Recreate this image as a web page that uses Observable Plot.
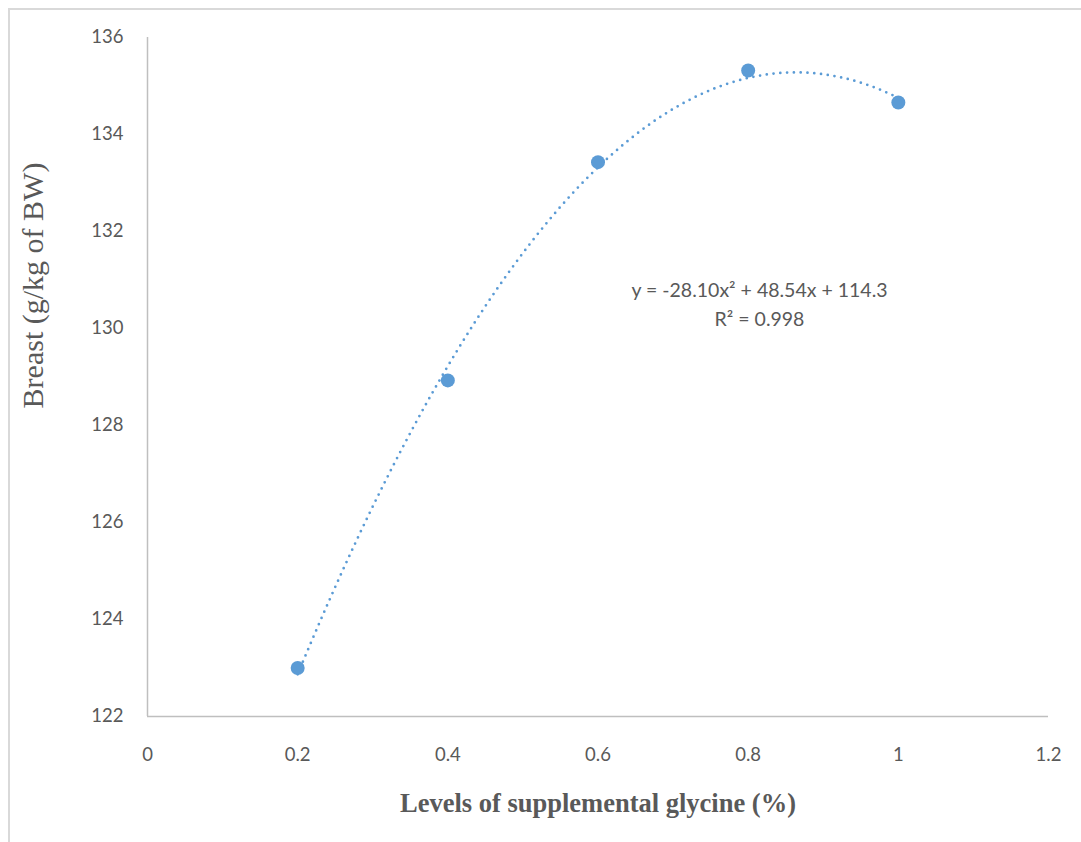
<!DOCTYPE html>
<html>
<head>
<meta charset="utf-8">
<script src="https://cdn.jsdelivr.net/npm/d3@7"></script>
<script src="https://cdn.jsdelivr.net/npm/@observablehq/plot@0.6"></script>
<style>
  html, body { margin: 0; padding: 0; background: #fff; overflow: hidden; }
  #wrap { position: relative; width: 1081px; height: 842px; }
  #frame { position: absolute; left: 8px; top: 8px; width: 1200px; height: 1000px;
           border-left: 2px solid #d9d9d9; border-top: 2px solid #d9d9d9; pointer-events: none; }
  #chart { position: absolute; left: 0; top: 0; }
</style>
</head>
<body>
<div id="wrap"><div id="frame"></div><div id="chart"></div></div>
<script>
// ---- data ----
const glycineLevels = [0.2, 0.4, 0.6, 0.8, 1.0];
const breastValues = [123.0, 128.93, 133.43, 135.32, 134.66];
const xTicks = [0, 0.2, 0.4, 0.6, 0.8, 1, 1.2];
const xTickLabels = ["0", "0.2", "0.4", "0.6", "0.8", "1", "1.2"];
const yTicks = [122, 124, 126, 128, 130, 132, 134, 136];
const equationText = "y = -28.10x² + 48.54x + 114.3\nR² = 0.998";
const xTitle = "Levels of supplemental glycine (%)";
const yTitle = "Breast (g/kg of BW)";

// ---- build tables ----
const points = glycineLevels.map((x, i) => ({x, y: breastValues[i]}));

// least-squares quadratic fit of the points (polynomial trendline)
function quadFit(xs, ys) {
  const n = xs.length;
  let s = [0,0,0,0,0], t = [0,0,0];
  for (let i = 0; i < n; i++) {
    for (let k = 0; k < 5; k++) s[k] += Math.pow(xs[i], k);
    for (let k = 0; k < 3; k++) t[k] += ys[i] * Math.pow(xs[i], k);
  }
  const A = [[s[0], s[1], s[2], t[0]], [s[1], s[2], s[3], t[1]], [s[2], s[3], s[4], t[2]]];
  for (let c = 0; c < 3; c++) {
    for (let r = c + 1; r < 3; r++) {
      const f = A[r][c] / A[c][c];
      for (let k = c; k < 4; k++) A[r][k] -= f * A[c][k];
    }
  }
  const b = [0,0,0];
  for (let r = 2; r >= 0; r--) {
    let v = A[r][3];
    for (let k = r + 1; k < 3; k++) v -= A[r][k] * b[k];
    b[r] = v / A[r][r];
  }
  return b; // c0, c1, c2
}
const coef = quadFit(glycineLevels, breastValues);
const xMin = d3.min(glycineLevels), xMax = d3.max(glycineLevels);
const trend = d3.range(0, 201).map(i => {
  const x = xMin + (xMax - xMin) * i / 200;
  return {x, y: coef[0] + coef[1] * x + coef[2] * x * x};
});

const blue = "#5B9BD5";
const gray = "#595959";

const chart = Plot.plot({
  width: 1081,
  height: 842,
  marginLeft: 147,
  marginRight: 33,
  marginTop: 37,
  marginBottom: 126,
  x: {domain: [0, 1.2]},
  y: {domain: [122, 136]},
  style: {fontFamily: "Lato", fontSize: "18.5px", color: gray, background: "transparent", overflow: "visible"},
  marks: [
    Plot.axisX({ticks: xTicks, tickFormat: d => xTickLabels[xTicks.indexOf(d)], tickSize: 0, tickPadding: 31, label: null, fill: gray}),
    Plot.axisY({ticks: yTicks, tickSize: 0, tickPadding: 24, label: null, fill: gray}),
    Plot.ruleX([0], {stroke: "#bfbfbf", strokeWidth: 1.5}),
    Plot.ruleY([122], {stroke: "#bfbfbf", strokeWidth: 1.5}),
    Plot.line(trend, {x: "x", y: "y", stroke: blue, strokeWidth: 2.75, strokeDasharray: "0,6.8", strokeLinecap: "round"}),
    Plot.dot(points, {x: "x", y: "y", r: 7, fill: blue}),
    Plot.text([equationText], {text: d => d, frameAnchor: "top-left", dx: 612, dy: 264.5, textAnchor: "middle", lineAnchor: "middle", lineHeight: 1.5, fill: gray, fontSize: 19.5}),
    Plot.text([xTitle], {text: d => d, frameAnchor: "bottom", dy: 87, textAnchor: "middle", lineAnchor: "middle", fontFamily: "Liberation Serif", fontWeight: "bold", fontSize: 26.5, fill: gray}),
    Plot.text([yTitle], {text: d => d, frameAnchor: "left", rotate: -90, dx: -114, dy: -91.5, textAnchor: "middle", lineAnchor: "middle", fontFamily: "Liberation Serif", fontSize: 30, fill: gray})
  ]
});
document.getElementById("chart").appendChild(chart);
</script>
</body>
</html>
